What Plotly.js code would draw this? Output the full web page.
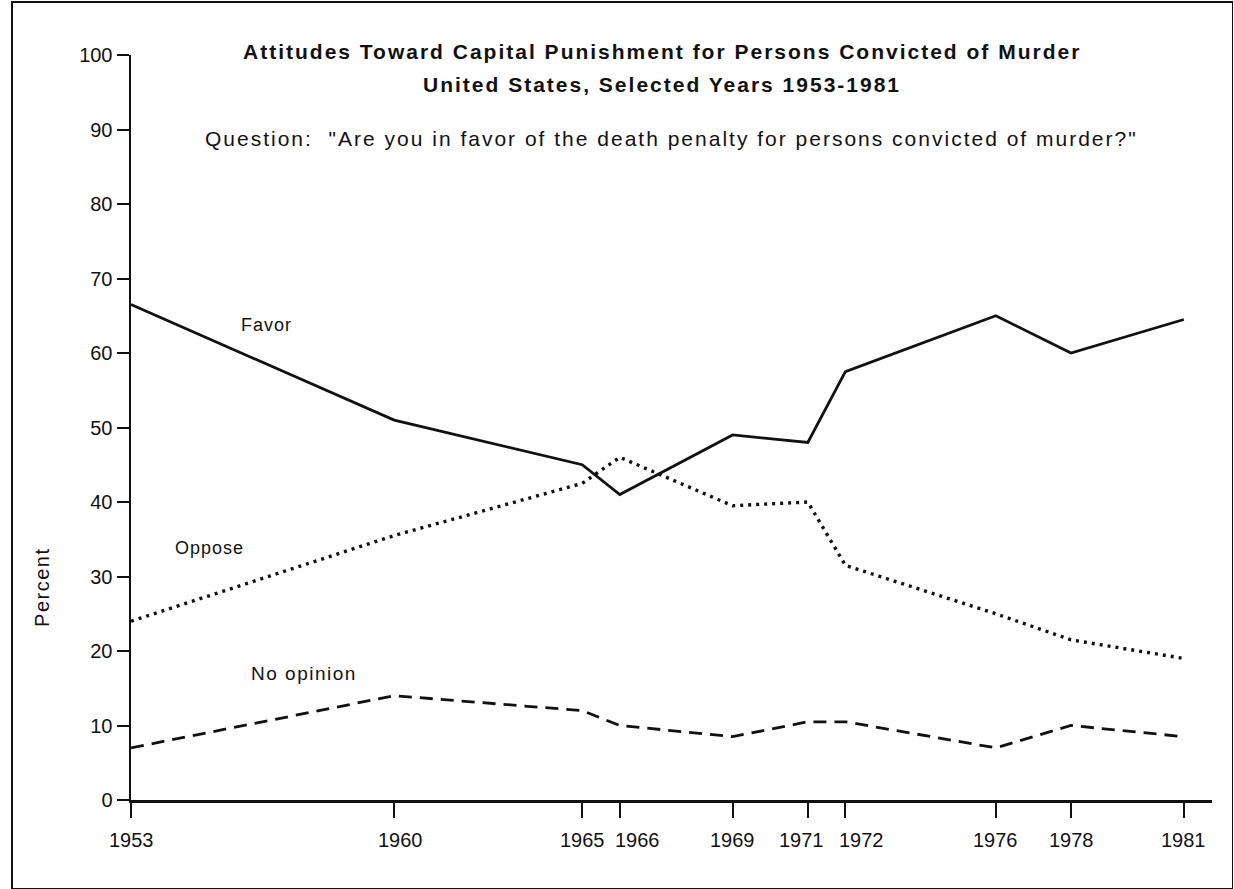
<!DOCTYPE html>
<html>
<head>
<meta charset="utf-8">
<script src="https://cdn.plot.ly/plotly-3.0.1.min.js"></script>
<style>
  html, body { margin: 0; padding: 0; background: #fff; }
  #wrap { position: relative; width: 1234px; height: 889px; }
  #chart { width: 1234px; height: 889px; }
  #frame { position: absolute; left: 11px; top: 1px; width: 1219px; height: 885px;
           border: 2px solid #111; border-right-width: 1px; pointer-events: none; }
</style>
</head>
<body>
<div id="wrap">
  <div id="chart"></div>
  <div id="frame"></div>
</div>
<script>
// ---- data ----
const years     = [1953, 1960, 1965, 1966, 1969, 1971, 1972, 1976, 1978, 1981];
const favor     = [66.5, 51, 45, 41, 49, 48, 57.5, 65, 60, 64.5];
const oppose    = [24, 35.5, 42.5, 46, 39.5, 40, 31.5, 25, 21.5, 19];
const noOpinion = [7, 14, 12, 10, 8.5, 10.5, 10.5, 7, 10, 8.5];
const yTicks    = [0, 10, 20, 30, 40, 50, 60, 70, 80, 90, 100];
const yearLabels = years.map(String);
const seriesNames = ['Favor', 'Oppose', 'No opinion'];
const titleLine1 = 'Attitudes Toward Capital Punishment for Persons Convicted of Murder';
const titleLine2 = 'United States, Selected Years 1953-1981';
const questionText = 'Question:  "Are you in favor of the death penalty for persons convicted of murder?"';
const yLabel = 'Percent';

const FONT = 'Liberation Sans, Arial, Helvetica, sans-serif';
const spaced = (t, px) => '<span style="letter-spacing:' + px + 'px">' + t + '</span>';

// crowded year labels are nudged sideways as in the original (pixel nudges only)
const labelNudge = { 1960: 6, 1966: 18, 1971: -6, 1972: 16 };

const traces = [
  { x: years, y: favor, name: seriesNames[0], mode: 'lines',
    line: { color: '#111', width: 2.8, dash: 'solid' } },
  { x: years, y: oppose, name: seriesNames[1], mode: 'lines',
    line: { color: '#111', width: 3.4, dash: '3px,5px' } },
  { x: years, y: noOpinion, name: seriesNames[2], mode: 'lines',
    line: { color: '#111', width: 2.8, dash: '13px,8px' } }
];

const yearAnnotations = years.map((yr, i) => ({
  text: yearLabels[i], xref: 'x', yref: 'paper', x: yr, y: 0,
  xanchor: 'center', yanchor: 'top', yshift: -27, xshift: labelNudge[yr] || 0,
  showarrow: false, font: { family: FONT, size: 20, color: '#111' }
}));

const layout = {
  width: 1234, height: 889,
  margin: { l: 131, r: 22, t: 55, b: 89 },
  paper_bgcolor: '#fff', plot_bgcolor: '#fff',
  showlegend: false,
  font: { family: FONT, color: '#111', size: 17 },
  xaxis: {
    range: [1953, 1981.75], tickmode: 'array', tickvals: years,
    showticklabels: false,
    showgrid: false, zeroline: false, showline: true, linecolor: '#111', linewidth: 2.5,
    ticks: 'outside', ticklen: 15, tickwidth: 2, tickcolor: '#111'
  },
  yaxis: {
    range: [0, 100], tickmode: 'array', tickvals: yTicks,
    showgrid: false, zeroline: false, showline: true, linecolor: '#111', linewidth: 2.5,
    ticks: 'outside', ticklen: 12, tickwidth: 2, tickcolor: '#111',
    tickfont: { family: FONT, size: 20, color: '#111' }
  },
  annotations: [
    { text: '<b>' + spaced(titleLine1, 2) + '</b>', xref: 'paper', yref: 'paper', x: 0.5, y: 1.005,
      xanchor: 'center', yanchor: 'middle', showarrow: false, xshift: -10,
      font: { family: FONT, size: 21, color: '#111' } },
    { text: '<b>' + spaced(titleLine2, 2) + '</b>', xref: 'paper', yref: 'paper', x: 0.5, y: 0.961,
      xanchor: 'center', yanchor: 'middle', showarrow: false, xshift: -10,
      font: { family: FONT, size: 21, color: '#111' } },
    { text: spaced(questionText, 2), xref: 'paper', yref: 'paper', x: 0.5, y: 0.888,
      xanchor: 'center', yanchor: 'middle', showarrow: false,
      font: { family: FONT, size: 21, color: '#111' } },
    { text: spaced(seriesNames[0], 1), x: 1956.6, y: 63.8, xref: 'x', yref: 'y', showarrow: false,
      font: { family: FONT, size: 18, color: '#111' } },
    { text: spaced(seriesNames[1], 1), x: 1955.1, y: 33.8, xref: 'x', yref: 'y', showarrow: false,
      font: { family: FONT, size: 18, color: '#111' } },
    { text: spaced(seriesNames[2], 1.5), x: 1957.6, y: 17.0, xref: 'x', yref: 'y', showarrow: false,
      font: { family: FONT, size: 19, color: '#111' } },
    { text: spaced(yLabel, 1.5), xref: 'paper', yref: 'y', x: -0.083, y: 28.5, textangle: -90,
      showarrow: false, xanchor: 'center', yanchor: 'middle',
      font: { family: FONT, size: 20, color: '#111' } }
  ].concat(yearAnnotations)
};

Plotly.newPlot('chart', traces, layout, { displayModeBar: false, staticPlot: true });
</script>
</body>
</html>
